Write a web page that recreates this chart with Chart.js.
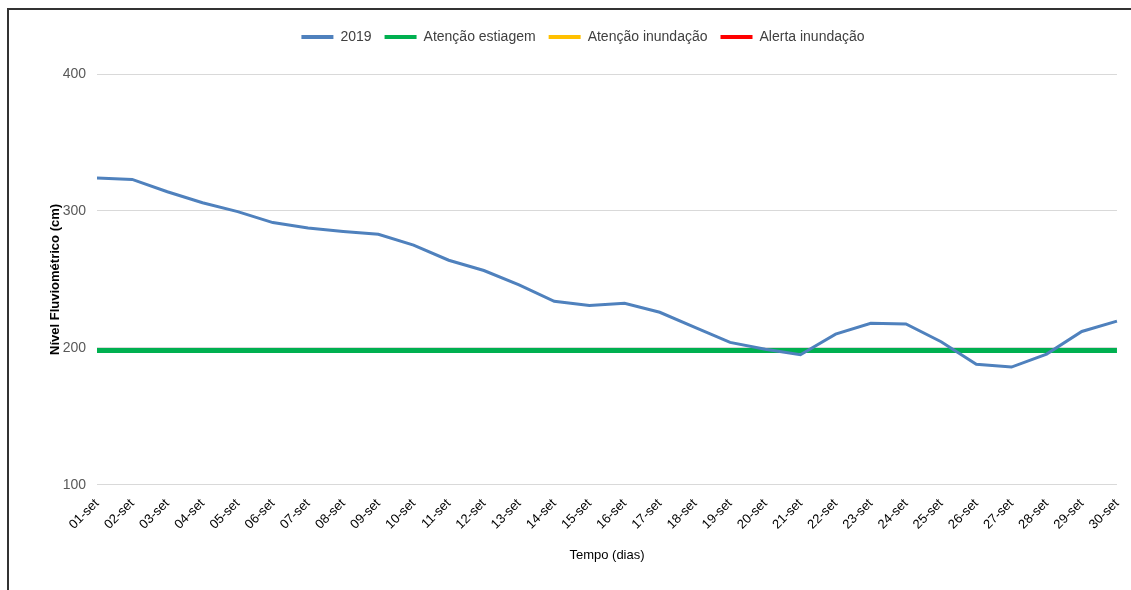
<!DOCTYPE html>
<html>
<head>
<meta charset="utf-8">
<script src="https://cdn.jsdelivr.net/npm/chart.js@4/dist/chart.umd.min.js"></script>
<style>
    body { margin: 0; background: #fff; }
    #wrap { position: relative; width: 1131px; height: 590px; }
    #frame { position: absolute; left: 7px; top: 8px; right: -5px; bottom: -5px;
             border-top: 2px solid #333; border-left: 2px solid #333; }
    canvas { position: absolute; left: 0; top: 0; }
</style>
</head>
<body>
<div id="wrap">
    <div id="frame"></div>
    <canvas id="nivel" width="1131" height="590"></canvas>
</div>
<script>
const dias = ['01-set', '02-set', '03-set', '04-set', '05-set', '06-set', '07-set', '08-set', '09-set', '10-set',
    '11-set', '12-set', '13-set', '14-set', '15-set', '16-set', '17-set', '18-set', '19-set', '20-set',
    '21-set', '22-set', '23-set', '24-set', '25-set', '26-set', '27-set', '28-set', '29-set', '30-set'];

const nivel2019 = [324, 323, 314, 306, 299.5, 291.5, 287.5, 285, 283, 275,
    264, 256.5, 246, 234, 231, 232.5, 226, 215, 204, 199,
    195, 210, 218, 217.5, 204.5, 188, 186, 195.5, 212, 219.5];

const atencaoEstiagem = new Array(dias.length).fill(198);
const atencaoInundacao = [];
const alertaInundacao = [];

const yTicks = [100, 200, 300, 400];

const fonte = "'Liberation Sans', Arial, sans-serif";

// espaço extra abaixo da legenda, para o topo da area do grafico cair em y=75
const legendaExtra = {
    id: 'legendaExtra',
    beforeInit(chart) {
        const fitOriginal = chart.legend.fit;
        chart.legend.fit = function() {
            fitOriginal.bind(chart.legend)();
            this.height += 20;
        };
    }
};

const ctx = document.getElementById('nivel').getContext('2d');

const data = {
    labels: dias,
    datasets: [
        {
            label: '2019',
            data: nivel2019,
            borderColor: '#4f81bd',
            backgroundColor: '#4f81bd',
            borderWidth: 3,
            pointRadius: 0,
            tension: 0,
            order: 0
        },
        {
            label: 'Atenção estiagem',
            data: atencaoEstiagem,
            borderColor: '#00b050',
            backgroundColor: '#00b050',
            borderWidth: 5,
            pointRadius: 0,
            order: 1
        },
        {
            label: 'Atenção inundação',
            data: atencaoInundacao,
            borderColor: '#ffc000',
            backgroundColor: '#ffc000',
            borderWidth: 5,
            pointRadius: 0
        },
        {
            label: 'Alerta inundação',
            data: alertaInundacao,
            borderColor: '#ff0000',
            backgroundColor: '#ff0000',
            borderWidth: 5,
            pointRadius: 0
        }
    ]
};

const nivelChart = new Chart(ctx, {
    type: 'line',
    data: data,
    plugins: [legendaExtra],
    options: {
        responsive: false,
        animation: false,
        layout: {
            padding: { left: 48, right: 13, top: 17, bottom: 23 }
        },
        plugins: {
            legend: {
                position: 'top',
                labels: {
                    boxWidth: 32,
                    boxHeight: 4,
                    padding: 13,
                    color: '#404040',
                    font: { family: fonte, size: 14 },
                    generateLabels: function(chart) {
                        return chart.data.datasets.map((ds, i) => ({
                            text: ds.label,
                            fillStyle: ds.borderColor,
                            strokeStyle: ds.borderColor,
                            lineWidth: 0,
                            fontColor: '#404040',
                            datasetIndex: i
                        }));
                    }
                }
            },
            tooltip: { enabled: false }
        },
        scales: {
            x: {
                grid: { display: false },
                border: { display: false },
                ticks: {
                    maxRotation: 45,
                    minRotation: 45,
                    autoSkip: false,
                    color: '#000',
                    font: { family: fonte, size: 13 }
                },
                title: {
                    display: true,
                    text: 'Tempo (dias)',
                    color: '#000',
                    padding: { top: 12 },
                    font: { family: fonte, size: 13 }
                }
            },
            y: {
                min: 100,
                max: 400,
                afterBuildTicks: function(scale) {
                    scale.ticks = yTicks.map(v => ({ value: v }));
                },
                afterFit: function(scale) {
                    scale.width = 49;
                },
                grid: { color: '#d9d9d9', drawTicks: false },
                border: { display: false },
                ticks: {
                    padding: 11,
                    color: '#595959',
                    font: { family: fonte, size: 14 }
                },
                title: {
                    display: true,
                    text: 'Nível Fluviométrico (cm)',
                    color: '#000',
                    padding: 0,
                    font: { family: fonte, size: 13, weight: 'bold' }
                }
            }
        }
    }
});
</script>
</body>
</html>
